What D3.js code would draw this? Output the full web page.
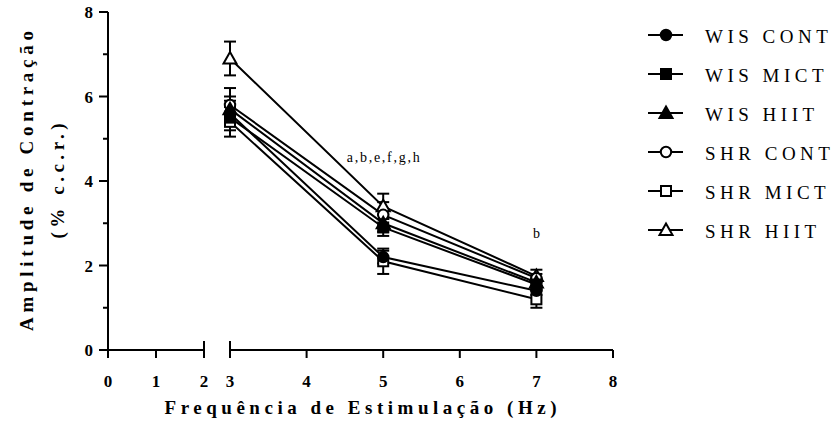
<!DOCTYPE html>
<html>
<head>
<meta charset="utf-8">
<script src="https://cdn.jsdelivr.net/npm/d3@7"></script>
<style>
  html, body { margin: 0; padding: 0; background: #fff; }
  svg { display: block; }
  text { font-family: "Liberation Serif", "Times New Roman", serif; fill: #000; }
</style>
</head>
<body>
<svg id="chart" width="837" height="433"></svg>
<script>
// Stimulation frequencies (Hz) at which contraction amplitude was measured
const frequencies = [3, 5, 7];

// Group names, in legend order
const groups = ["WIS CONT", "WIS MICT", "WIS HIIT", "SHR CONT", "SHR MICT", "SHR HIIT"];

// Mean contraction amplitude (% c.c.r.) per group at 3, 5 and 7 Hz
const wisCont = [5.6, 2.2, 1.4];
const wisMict = [5.5, 2.9, 1.55];
const wisHiit = [5.7, 3.0, 1.6];
const shrCont = [5.8, 3.2, 1.7];
const shrMict = [5.4, 2.1, 1.2];
const shrHiit = [6.9, 3.4, 1.75];

// Standard error of the mean per group
const wisContErr = [0.3, 0.15, 0.1];
const wisMictErr = [0.3, 0.2, 0.1];
const wisHiitErr = [0.3, 0.2, 0.1];
const shrContErr = [0.4, 0.3, 0.1];
const shrMictErr = [0.35, 0.3, 0.2];
const shrHiitErr = [0.4, 0.3, 0.15];

// Marker shape and fill for each group
const symbols = ["circle", "square", "triangle", "circle", "square", "triangle"];
const filled = [true, true, true, false, false, false];

// Axis ticks
const yTicks = [0, 1, 2, 3, 4, 5, 6, 7, 8];
const yTickLabels = ["0", "", "2", "", "4", "", "6", "", "8"];
const xTicksLeft = [0, 1, 2];
const xTicksRight = [3, 4, 5, 6, 7, 8];

// Significance annotations (baseline at the given amplitude)
const annotations = [
  { x: 5, y: 4.45, text: "a,b,e,f,g,h" },
  { x: 7, y: 2.65, text: "b" }
];

const means = [wisCont, wisMict, wisHiit, shrCont, shrMict, shrHiit];
const errs = [wisContErr, wisMictErr, wisHiitErr, shrContErr, shrMictErr, shrHiitErr];
const series = groups.map((name, i) => ({
  name,
  symbol: symbols[i],
  filled: filled[i],
  points: frequencies.map((f, j) => ({ f, v: means[i][j], e: errs[i][j] }))
}));

const svg = d3.select("#chart");

// Broken x axis: 0–2 on a short segment, 3–8 on the main segment
const xLeft = d3.scaleLinear().domain([0, 2]).range([108, 204]);
const xRight = d3.scaleLinear().domain([3, 8]).range([230, 613]);
const y = d3.scaleLinear().domain([0, 8]).range([350, 12]);

const axisColor = "#000";
const sw = 2;

// ---- y axis ----
const yAxis = svg.append("g").attr("transform", `translate(${xLeft(0)},0)`);
yAxis.append("line")
  .attr("x1", 0).attr("x2", 0).attr("y1", y(0)).attr("y2", y(8))
  .attr("stroke", axisColor).attr("stroke-width", sw);
yAxis.selectAll(".yt").data(yTicks).join("line")
  .attr("x1", (d, i) => yTickLabels[i] ? -9 : -5).attr("x2", 0)
  .attr("y1", d => y(d)).attr("y2", d => y(d))
  .attr("stroke", axisColor).attr("stroke-width", sw);
yAxis.selectAll(".yl").data(yTicks.filter((d, i) => yTickLabels[i])).join("text")
  .attr("x", -15).attr("y", d => y(d)).attr("dy", "0.36em")
  .attr("text-anchor", "end")
  .style("font-weight", "bold").style("font-size", "17px")
  .text(d => yTickLabels[yTicks.indexOf(d)]);

// ---- x axis, left segment ----
const xa = svg.append("g");
xa.append("line")
  .attr("x1", xLeft(0)).attr("x2", xLeft(2)).attr("y1", y(0)).attr("y2", y(0))
  .attr("stroke", axisColor).attr("stroke-width", sw);
xa.selectAll(".xtl").data(xTicksLeft).join("line")
  .attr("x1", d => xLeft(d)).attr("x2", d => xLeft(d))
  .attr("y1", d => d === 2 ? y(0) - 9 : y(0)).attr("y2", y(0) + 8)
  .attr("stroke", axisColor).attr("stroke-width", sw);
// ---- x axis, right segment ----
xa.append("line")
  .attr("x1", xRight(3)).attr("x2", xRight(8)).attr("y1", y(0)).attr("y2", y(0))
  .attr("stroke", axisColor).attr("stroke-width", sw);
xa.selectAll(".xtr").data(xTicksRight).join("line")
  .attr("x1", d => xRight(d)).attr("x2", d => xRight(d))
  .attr("y1", d => d === 3 ? y(0) - 9 : y(0)).attr("y2", y(0) + 8)
  .attr("stroke", axisColor).attr("stroke-width", sw);
const xLabels = xTicksLeft.map(d => ({ d, x: xLeft(d) }))
  .concat(xTicksRight.map(d => ({ d, x: xRight(d) })));
xa.selectAll(".xl").data(xLabels).join("text")
  .attr("x", d => d.x).attr("y", y(0) + 37)
  .attr("text-anchor", "middle")
  .style("font-weight", "bold").style("font-size", "17px")
  .text(d => d.d);

// ---- axis titles, centred on their axes ----
const yMid = (y(0) + y(8)) / 2;
const xMid = (xLeft(0) + xRight(8)) / 2;
svg.append("text")
  .attr("transform", `translate(33,${yMid}) rotate(-90)`)
  .attr("text-anchor", "middle")
  .attr("textLength", 300).attr("lengthAdjust", "spacing")
  .style("font-weight", "bold").style("font-size", "19px")
  .text("Amplitude de Contração");
svg.append("text")
  .attr("transform", `translate(64,${yMid}) rotate(-90)`)
  .attr("text-anchor", "middle")
  .attr("textLength", 115).attr("lengthAdjust", "spacing")
  .style("font-weight", "bold").style("font-size", "19px")
  .text("(% c.c.r.)");
svg.append("text")
  .attr("x", xMid).attr("y", 414)
  .attr("text-anchor", "middle")
  .attr("textLength", 392).attr("lengthAdjust", "spacing")
  .style("font-weight", "bold").style("font-size", "19px")
  .text("Frequência de Estimulação (Hz)");

// ---- marker helper ----
function drawMarker(g, shape, isFilled, cx, cy) {
  const common = el => el
    .attr("fill", isFilled ? "#000" : "#fff")
    .attr("stroke", "#000").attr("stroke-width", 2);
  if (shape === "circle") {
    common(g.append("circle").attr("cx", cx).attr("cy", cy).attr("r", 5.2));
  } else if (shape === "square") {
    common(g.append("rect").attr("x", cx - 5).attr("y", cy - 5).attr("width", 10).attr("height", 10));
  } else {
    common(g.append("path").attr("d", `M${cx},${cy - 6.5}L${cx + 6.5},${cy + 5}L${cx - 6.5},${cy + 5}Z`));
  }
}

// ---- series: error bars, lines, markers ----
const plot = svg.append("g");
const line = d3.line().x(d => xRight(d.f)).y(d => y(d.v));

series.forEach(s => {
  const g = plot.append("g");
  g.selectAll(".eb").data(s.points).join("g").each(function (p) {
    const eg = d3.select(this);
    const cx = xRight(p.f);
    eg.append("line").attr("x1", cx).attr("x2", cx)
      .attr("y1", y(p.v - p.e)).attr("y2", y(p.v + p.e))
      .attr("stroke", "#000").attr("stroke-width", 2);
    [p.v - p.e, p.v + p.e].forEach(v => {
      eg.append("line").attr("x1", cx - 6).attr("x2", cx + 6)
        .attr("y1", y(v)).attr("y2", y(v))
        .attr("stroke", "#000").attr("stroke-width", 2);
    });
  });
});
series.forEach(s => {
  plot.append("path").datum(s.points)
    .attr("d", line).attr("fill", "none")
    .attr("stroke", "#000").attr("stroke-width", 2);
});
series.slice().reverse().forEach(s => {
  const g = plot.append("g");
  s.points.forEach(p => drawMarker(g, s.symbol, s.filled, xRight(p.f), y(p.v)));
});

// ---- annotations ----
svg.selectAll(".ann").data(annotations).join("text")
  .attr("x", d => xRight(d.x)).attr("y", d => y(d.y))
  .attr("text-anchor", "middle")
  .style("font-size", "14px")
  .each(function (d) {
    if (d.text.length > 1) d3.select(this).attr("textLength", 73).attr("lengthAdjust", "spacing");
  })
  .text(d => d.text);

// ---- legend ----
const legend = svg.append("g").attr("transform", "translate(648,35)");
series.forEach((s, i) => {
  const row = legend.append("g").attr("transform", `translate(0,${i * 39})`);
  row.append("line").attr("x1", 0).attr("x2", 35).attr("y1", 0).attr("y2", 0)
    .attr("stroke", "#000").attr("stroke-width", 2);
  drawMarker(row, s.symbol, s.filled, 18, 0);
  row.append("text")
    .attr("x", 57).attr("y", 8)
    .style("font-size", "19px")
    .style("letter-spacing", "4.5px")
    .text(s.name);
});
</script>
</body>
</html>
